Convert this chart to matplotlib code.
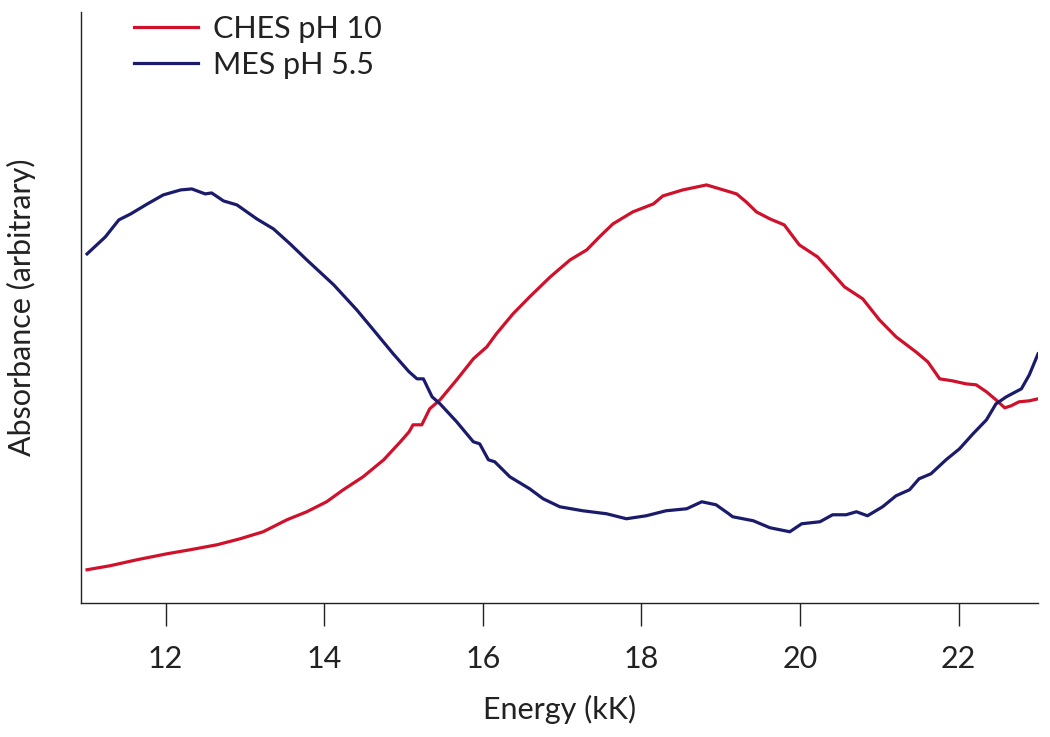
import matplotlib
matplotlib.use("Agg")
import matplotlib.pyplot as plt

# Absorbance spectra, values (arbitrary units)
ches_energy = [11.01, 11.30, 11.64, 12.02, 12.31, 12.65, 12.94, 13.23, 13.53, 13.78,
               14.03, 14.24, 14.49, 14.75, 14.96, 15.07, 15.12, 15.23, 15.33, 15.46,
               15.67, 15.88, 16.05, 16.17, 16.38, 16.59, 16.85, 17.10, 17.31, 17.47,
               17.64, 17.89, 18.15, 18.27, 18.52, 18.82, 18.99, 19.20, 19.32, 19.45,
               19.62, 19.80, 19.99, 20.22, 20.37, 20.56, 20.79, 21.00, 21.21, 21.46,
               21.61, 21.76, 21.92, 22.09, 22.22, 22.35, 22.47, 22.58, 22.66, 22.76,
               22.89, 23.00]
ches_abs = [0.33, 0.37, 0.43, 0.49, 0.53, 0.58, 0.64, 0.71, 0.83, 0.91,
            1.01, 1.13, 1.26, 1.43, 1.61, 1.71, 1.78, 1.78, 1.94, 2.03,
            2.23, 2.44, 2.56, 2.69, 2.89, 3.06, 3.26, 3.43, 3.53, 3.66,
            3.79, 3.91, 3.99, 4.07, 4.13, 4.18, 4.14, 4.09, 4.01, 3.91,
            3.84, 3.78, 3.58, 3.46, 3.33, 3.16, 3.04, 2.83, 2.66, 2.51,
            2.41, 2.24, 2.22, 2.19, 2.18, 2.11, 2.03, 1.95, 1.97, 2.01,
            2.02, 2.04]

mes_energy = [11.01, 11.24, 11.41, 11.56, 11.77, 11.97, 12.19, 12.33, 12.50, 12.58,
              12.73, 12.90, 13.15, 13.36, 13.57, 13.78, 14.12, 14.41, 14.62, 14.87,
              15.07, 15.17, 15.25, 15.36, 15.46, 15.67, 15.88, 15.96, 16.07, 16.15,
              16.34, 16.59, 16.76, 16.97, 17.26, 17.56, 17.81, 18.06, 18.31, 18.57,
              18.76, 18.94, 19.10, 19.15, 19.41, 19.62, 19.87, 20.02, 20.25, 20.41,
              20.58, 20.71, 20.85, 21.04, 21.21, 21.38, 21.50, 21.65, 21.84, 22.01,
              22.18, 22.35, 22.47, 22.60, 22.79, 22.89, 23.00]
mes_abs = [3.49, 3.66, 3.83, 3.89, 3.99, 4.08, 4.13, 4.14, 4.09, 4.10,
           4.02, 3.98, 3.84, 3.74, 3.59, 3.43, 3.18, 2.93, 2.73, 2.49,
           2.31, 2.24, 2.24, 2.06, 1.99, 1.81, 1.61, 1.59, 1.43, 1.41,
           1.26, 1.14, 1.04, 0.96, 0.92, 0.89, 0.84, 0.87, 0.92, 0.94,
           1.01, 0.98, 0.89, 0.86, 0.82, 0.75, 0.71, 0.79, 0.81, 0.88,
           0.88, 0.91, 0.87, 0.96, 1.07, 1.13, 1.24, 1.29, 1.43, 1.54,
           1.69, 1.83, 1.99, 2.06, 2.14, 2.28, 2.49]

x_ticks = [12, 14, 16, 18, 20, 22]

plt.rcParams['font.family'] = ['Lato', 'DejaVu Sans']

fig = plt.figure(figsize=(10.5, 7.37), dpi=100)
ax = fig.add_axes([0.0769, 0.1822, 0.9117, 0.8015])

ax.plot(ches_energy, ches_abs, color='#d0112b', lw=2.3, label='CHES pH 10')
ax.plot(mes_energy, mes_abs, color='#1b1b6b', lw=2.3, label='MES pH 5.5')

ax.set_xlim(10.93, 23.0)
ax.set_ylim(0, 5.91)
ax.set_xticks(x_ticks)
ax.set_yticks([])

for side in ['top', 'right']:
    ax.spines[side].set_visible(False)
for side in ['left', 'bottom']:
    ax.spines[side].set_linewidth(1.0)
    ax.spines[side].set_color('#222222')

ax.tick_params(axis='x', direction='out', length=16.5, width=1.0,
               color='#222222', pad=14, labelsize=22, labelcolor='#222222')

ax.set_xlabel('Energy (kK)', fontsize=22, color='#222222', labelpad=16)
ax.set_ylabel('Absorbance (arbitrary)', fontsize=22, color='#222222', labelpad=32)

ax.legend(loc='upper left', bbox_to_anchor=(134 / 1050, 1 - 15 / 737),
          bbox_transform=fig.transFigure, frameon=False, fontsize=22,
          borderpad=0, borderaxespad=0, handlelength=2.1, handletextpad=0.5,
          labelspacing=0.25, labelcolor='#222222')

fig.savefig('out.png', dpi=100)
